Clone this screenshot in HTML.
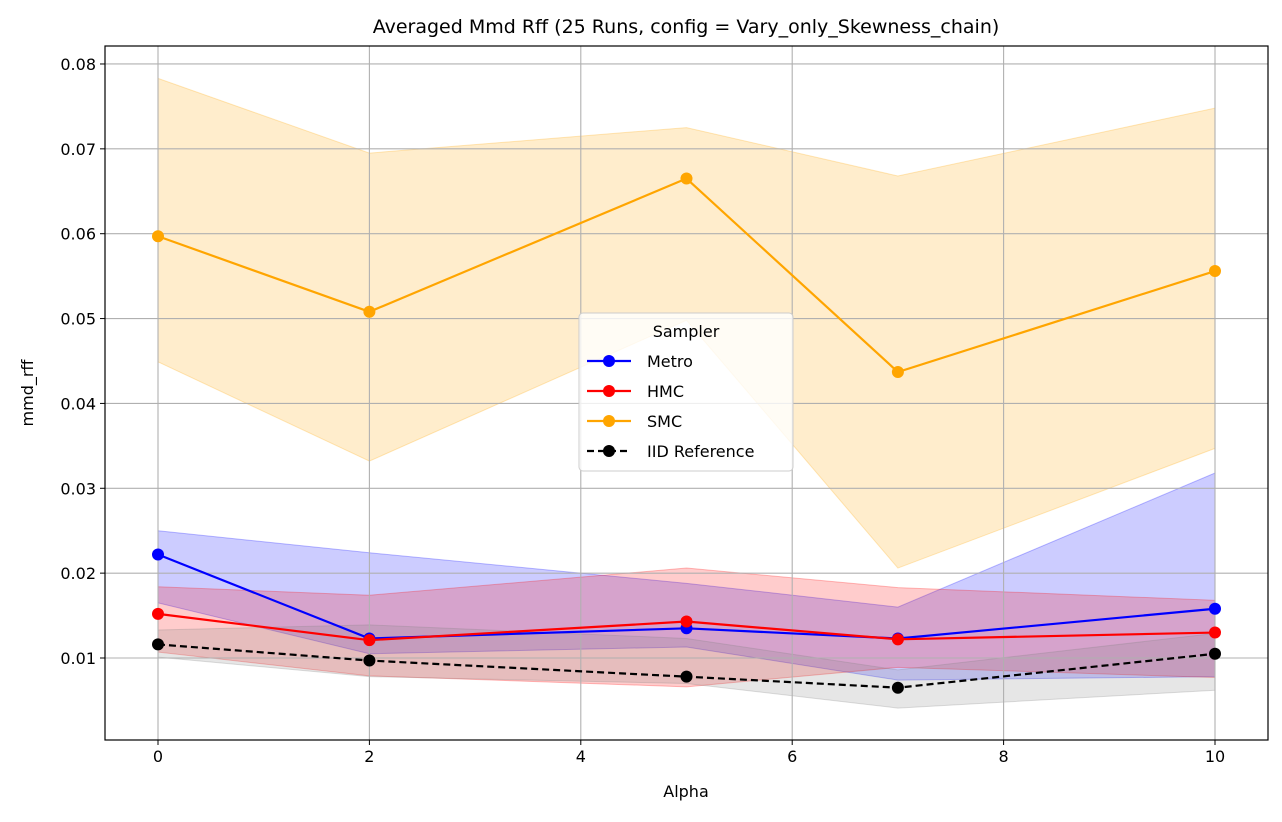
<!DOCTYPE html>
<html><head><meta charset="utf-8"><style>
body{margin:0;background:#fff;}
svg text{font-family:"DejaVu Sans","Liberation Sans",sans-serif;fill:#000;}
</style></head><body>
<svg id="chart" width="1282" height="817" xmlns="http://www.w3.org/2000/svg"></svg>
<script>
const alphas=[0,2,5,7,10];
const metroMean=[0.0222,0.0123,0.0135,0.0123,0.0158];
const metroLo=[0.0165,0.0105,0.0113,0.0074,0.0078];
const metroHi=[0.0250,0.0224,0.0188,0.0160,0.0318];
const hmcMean=[0.0152,0.0121,0.0143,0.0122,0.0130];
const hmcLo=[0.0107,0.0079,0.0066,0.0089,0.0077];
const hmcHi=[0.0184,0.0174,0.0206,0.0183,0.0168];
const smcMean=[0.0597,0.0508,0.0665,0.0437,0.0556];
const smcLo=[0.0449,0.0332,0.0498,0.0206,0.0347];
const smcHi=[0.0783,0.0695,0.0725,0.0668,0.0748];
const iidMean=[0.0116,0.0097,0.0078,0.0065,0.0105];
const iidLo=[0.0101,0.0078,0.0070,0.0041,0.0062];
const iidHi=[0.0133,0.0139,0.0123,0.0086,0.0129];
const xTicks=[0,2,4,6,8,10];
const yTicks=[0.01,0.02,0.03,0.04,0.05,0.06,0.07,0.08];

const svg=document.getElementById('chart');
const NS='http://www.w3.org/2000/svg';
const L=105,R=1268,T=46,B=740;
const X=v=>158+v*105.7;
const Y=v=>658-(v-0.01)*8486;
function mk(tag,attrs,parent){const e=document.createElementNS(NS,tag);for(const k in attrs)e.setAttribute(k,attrs[k]);(parent||svg).appendChild(e);return e;}

function band(lo,hi,color,op,name){
  let d='M'+alphas.map((a,i)=>X(a)+','+Y(hi[i])).join('L')+'L'+alphas.map((a,i)=>X(a)+','+Y(lo[i])).reverse().join('L')+'Z';
  const p=mk('path',{d:d,fill:color,'fill-opacity':op,stroke:color,'stroke-opacity':op*1.3});
  
  
}
function series(m,color,dash,name){
  const pl=mk('polyline',{points:alphas.map((a,i)=>X(a)+','+Y(m[i])).join(' '),fill:'none',stroke:color,'stroke-width':2.2,'stroke-dasharray':dash||'none'});
  
  
  alphas.forEach((a,i)=>{
    const c=mk('circle',{cx:X(a),cy:Y(m[i]),r:6,fill:color});
    
    
  });
}
band(metroLo,metroHi,'#0000ff',0.2,'metro-band');
band(hmcLo,hmcHi,'#ff0000',0.2,'hmc-band');
band(smcLo,smcHi,'#ffa500',0.2,'smc-band');
band(iidLo,iidHi,'#808080',0.2,'iid-band');

// grid
xTicks.forEach(t=>{
  const g=mk('line',{x1:X(t),x2:X(t),y1:T,y2:B,stroke:'#b0b0b0','stroke-width':1.1});
  
  
  mk('line',{x1:X(t),x2:X(t),y1:B,y2:B+5,stroke:'#000'});
  const tx=mk('text',{x:X(t),y:B+22,'text-anchor':'middle','font-size':16});
  tx.textContent=t;
  
  
});
yTicks.forEach(t=>{
  const g=mk('line',{x1:L,x2:R,y1:Y(t),y2:Y(t),stroke:'#b0b0b0','stroke-width':1.1});
  
  
  mk('line',{x1:L-5,x2:L,y1:Y(t),y2:Y(t),stroke:'#000'});
  const tx=mk('text',{x:L-9,y:Y(t)+6,'text-anchor':'end','font-size':16});
  tx.textContent=t.toFixed(2);
  
  
});

series(metroMean,'#0000ff',null,'metro');
series(hmcMean,'#ff0000',null,'hmc');
series(smcMean,'#ffa500',null,'smc');
series(iidMean,'#000000','7,4','iid');

const fr=mk('rect',{x:L,y:T,width:R-L,height:B-T,fill:'none',stroke:'#000','stroke-width':1.2});



let t=mk('text',{x:686,y:33,'text-anchor':'middle','font-size':19});
t.textContent='Averaged Mmd Rff (25 Runs, config = Vary_only_Skewness_chain)';


t=mk('text',{x:686,y:797,'text-anchor':'middle','font-size':16});
t.textContent='Alpha';


t=mk('text',{x:33,y:393,'text-anchor':'middle','font-size':16,transform:'rotate(-90 33 393)'});
t.textContent='mmd_rff';



// legend
const lg=mk('g',{});


mk('rect',{x:579,y:313,width:214,height:158,rx:4,fill:'#fff','fill-opacity':0.8,stroke:'#ccc'},lg);
t=mk('text',{x:686,y:337,'text-anchor':'middle','font-size':16},lg);t.textContent='Sampler';
const items=[['Metro','#0000ff',null],['HMC','#ff0000',null],['SMC','#ffa500',null],['IID Reference','#000','7,4']];
items.forEach((it,i)=>{
  const y=361+i*30;
  const g=mk('g',{},lg);
  
  
  mk('line',{x1:587,x2:631,y1:y,y2:y,stroke:it[1],'stroke-width':2.2,'stroke-dasharray':it[2]||'none'},g);
  mk('circle',{cx:609,cy:y,r:6,fill:it[1]},g);
  const tx=mk('text',{x:647,y:y+6,'font-size':16},g);tx.textContent=it[0];
});
</script>
</body></html>
